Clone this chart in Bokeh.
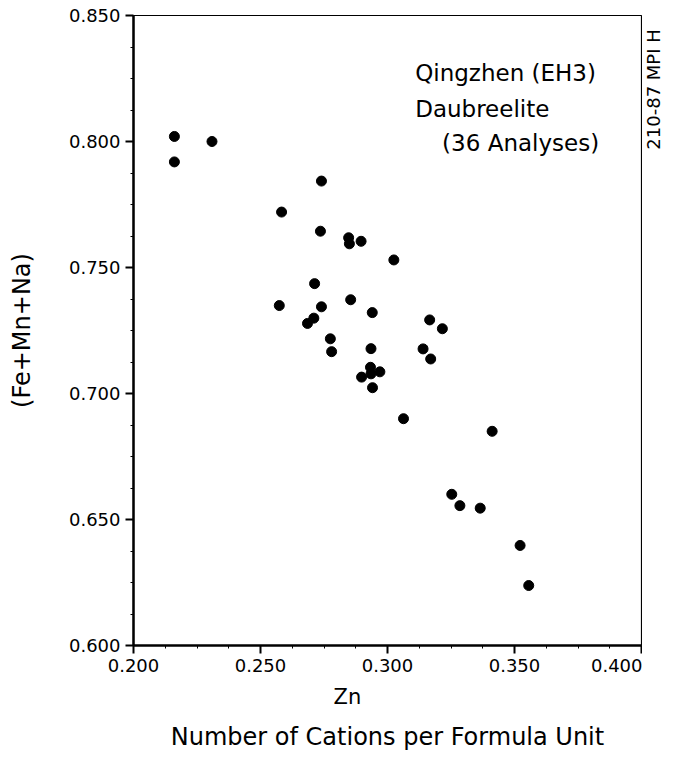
import math
from bokeh.plotting import figure
from bokeh.layouts import row
from bokeh.models import (FixedTicker, NumeralTickFormatter, Label, Title, Range1d)
from bokeh.embed import file_html
from bokeh.resources import INLINE

# Zn cations per formula unit
zn = [0.2161, 0.2161, 0.2309, 0.2740, 0.2583, 0.2736, 0.2847, 0.2850, 0.2896,
      0.3025, 0.2713, 0.2574, 0.2740, 0.2855, 0.2940, 0.3166, 0.3216, 0.2710,
      0.2685, 0.2775, 0.2780, 0.2935, 0.3140, 0.3170, 0.2933, 0.2970, 0.2935,
      0.2898, 0.2941, 0.3063, 0.3412, 0.3253, 0.3285, 0.3365, 0.3522, 0.3556]
# (Fe+Mn+Na) cations per formula unit
femnna = [0.8020, 0.7919, 0.8000, 0.7843, 0.7720, 0.7644, 0.7618, 0.7594, 0.7604,
          0.7530, 0.7436, 0.7349, 0.7344, 0.7372, 0.7321, 0.7292, 0.7257, 0.7299,
          0.7278, 0.7217, 0.7166, 0.7178, 0.7177, 0.7137, 0.7104, 0.7086, 0.7078,
          0.7065, 0.7023, 0.6900, 0.6850, 0.6600, 0.6555, 0.6545, 0.6397, 0.6238]

x_ticks = [0.200, 0.250, 0.300, 0.350, 0.400]
y_ticks = [0.600, 0.650, 0.700, 0.750, 0.800, 0.850]

x_title = "Zn"
x_subtitle = "Number of Cations per Formula Unit"
y_title = "(Fe+Mn+Na)"
note_lines = ["Qingzhen (EH3)", "Daubreelite", "(36 Analyses)"]
side_tag = "210-87 MPI H"

FONT = "DejaVu Sans"


def minors(ticks, n=4):
    out = []
    for a, b in zip(ticks[:-1], ticks[1:]):
        for k in range(1, n):
            out.append(a + (b - a) * k / n)
    return out


p = figure(frame_width=508, frame_height=630, output_backend="svg", toolbar_location=None,
           x_range=Range1d(x_ticks[0], x_ticks[-1]), y_range=Range1d(y_ticks[0], y_ticks[-1]),
           min_border_left=133, min_border_right=1, min_border_top=15,
           min_border_bottom=0)
p.background_fill_color = "white"
p.border_fill_color = "white"
p.outline_line_color = "black"
p.outline_line_width = 1.2
p.xgrid.visible = False
p.ygrid.visible = False

p.scatter(zn, femnna, size=10, color="black", marker="circle")

for ax, ticks in ((p.xaxis[0], x_ticks), (p.yaxis[0], y_ticks)):
    ax.ticker = FixedTicker(ticks=ticks, minor_ticks=minors(ticks))
    ax.formatter = NumeralTickFormatter(format="0.000")
    ax.axis_line_width = 2.5
    ax.axis_line_color = "black"
    ax.major_tick_line_width = 2
    ax.major_tick_line_color = "black"
    ax.major_tick_out = 8
    ax.major_tick_in = 0
    ax.minor_tick_out = 3
    ax.minor_tick_in = 0
    ax.minor_tick_line_color = "black"
    ax.major_label_text_font = FONT
    ax.major_label_text_font_size = "18px"
    ax.major_label_text_color = "black"
    ax.axis_label_text_font = FONT
    ax.axis_label_text_font_style = "normal"
    ax.axis_label_text_color = "black"

p.xaxis[0].major_label_standoff = 5
p.yaxis[0].major_label_standoff = 5
p.yaxis[0].axis_label = y_title
p.yaxis[0].axis_label_text_font_size = "24px"
p.yaxis[0].axis_label_standoff = 30

zn_title = Title(text=x_title, align="left", offset=200, text_font=FONT,
                 text_font_size="21px", text_font_style="normal", text_color="black",
                 standoff=16)
p.add_layout(zn_title, "below")
sub = Title(text=x_subtitle, align="center", text_font=FONT, text_font_size="24px",
            text_font_style="normal", text_color="black", standoff=8)
p.add_layout(sub, "below")

note_pos = [(0.3109, 0.8270), (0.3109, 0.8130), (0.3215, 0.7995)]
for txt, (lx, ly) in zip(note_lines, note_pos):
    p.add_layout(Label(x=lx, y=ly, text=txt, text_font=FONT, text_font_size="23px",
                       text_baseline="middle", text_align="left", text_color="black"))

# narrow side strip carrying the vertical plate tag
side = figure(width=22, height=748, output_backend="svg", toolbar_location=None,
              x_range=Range1d(0, 1), y_range=Range1d(0, 1),
              x_axis_type=None, y_axis_type=None,
              min_border_left=0, min_border_right=0, min_border_top=0, min_border_bottom=0)
side.outline_line_color = None
side.xgrid.visible = False
side.ygrid.visible = False
side.add_layout(Label(x=0.5, y=0.785, text=side_tag, angle=math.pi / 2, text_font=FONT,
                      text_font_size="18px", text_baseline="middle", text_align="left",
                      text_color="black"))

layout = row(p, side)
open("out.html", "w").write(file_html(layout, INLINE))
